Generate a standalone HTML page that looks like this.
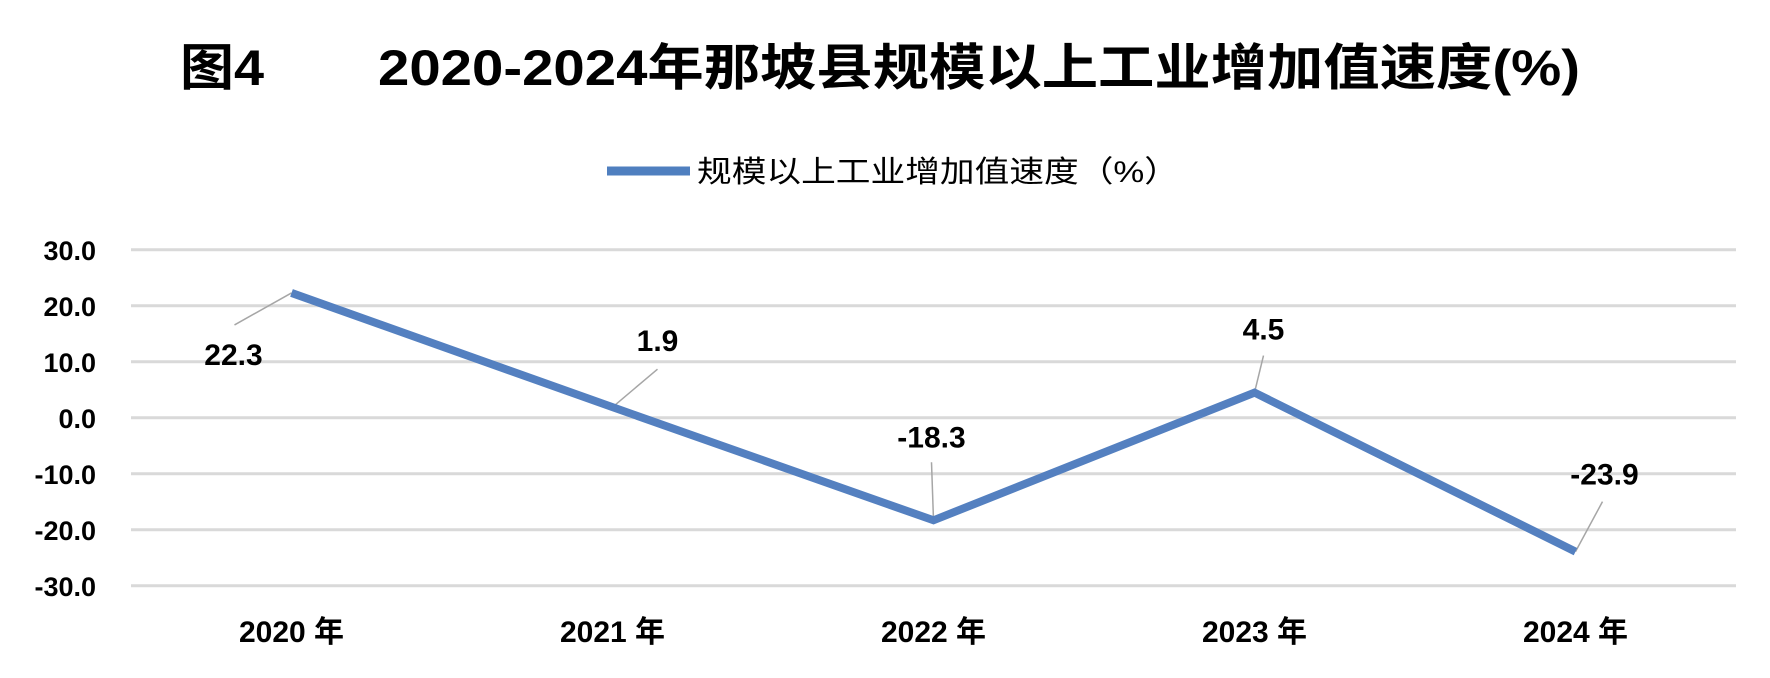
<!DOCTYPE html>
<html><head><meta charset="utf-8"><style>
body{margin:0;background:#fff;}
svg{display:block;font-family:"Liberation Sans","Noto Sans CJK SC",sans-serif;}
</style></head><body>
<svg width="1770" height="678" viewBox="0 0 1770 678">
<g>
<text x="180" y="85" font-size="50" font-weight="bold" fill="#000" textLength="84" lengthAdjust="spacingAndGlyphs">图4</text>
<text x="378" y="85" font-size="50" font-weight="bold" fill="#000" textLength="1202" lengthAdjust="spacingAndGlyphs">2020-2024年那坡县规模以上工业增加值速度(%)</text>
</g>
<g>
<line x1="607" y1="171" x2="690" y2="171" stroke="#4f7fbf" stroke-width="9"/>
<text x="697" y="182" font-size="30" fill="#000" textLength="482" lengthAdjust="spacingAndGlyphs">规模以上工业增加值速度（%）</text>
</g>
<g id="grid"></g><g id="yl"></g><g id="xl"></g><g id="lead"></g><g id="series"></g><g id="dl"></g>
</svg>
<script>
const categories=["2020 年","2021 年","2022 年","2023 年","2024 年"];
const values=[22.3,1.9,-18.3,4.5,-23.9];
const valueLabels=["22.3","1.9","-18.3","4.5","-23.9"];
const yTicks=[30,20,10,0,-10,-20,-30];
const yTickLabels=["30.0","20.0","10.0","0.0","-10.0","-20.0","-30.0"];
const NS="http://www.w3.org/2000/svg";
const L=131,R=1736,Y0=417.8,PX=5.6;
const x=i=>L+(R-L)/categories.length*(i+0.5);
const y=v=>Y0-v*PX;
function mk(t,a,p){const e=document.createElementNS(NS,t);for(const k in a)e.setAttribute(k,a[k]);document.getElementById(p).appendChild(e);return e;}
yTicks.forEach((t,i)=>{
 const g=mk("line",{x1:L,x2:R,y1:y(t),y2:y(t),stroke:"#d9d9d9","stroke-width":3},"grid");
 
 
 const tx=mk("text",{x:96,y:y(t)+10,"text-anchor":"end","font-size":27,"font-weight":"bold"},"yl");
 tx.textContent=yTickLabels[i];
 
 
});
categories.forEach((c,i)=>{
 const tx=mk("text",{x:x(i),y:642,"text-anchor":"middle","font-size":30,"font-weight":"bold"},"xl");
 tx.textContent=c;
 
 
});
const pts=values.map((v,i)=>x(i)+","+y(v)).join(" ");
const pl=mk("polyline",{points:pts,fill:"none",stroke:"#5480c0","stroke-width":8,"stroke-linejoin":"miter"},"series");


const off=[[-58,62,-57,32],[45,-66,45,-38],[-2,-83,-2,-58],[9,-63,9,-37],[29,-77,27,-50]];
values.forEach((v,i)=>{
 const px=x(i),py=y(v),o=off[i];
 const ln=mk("line",{x1:px,y1:py,x2:px+o[2],y2:py+o[3],stroke:"#a6a6a6","stroke-width":1.5},"lead");
 
 
 const tx=mk("text",{x:px+o[0],y:py+o[1]+10,"text-anchor":"middle","font-size":30,"font-weight":"bold"},"dl");
 tx.textContent=valueLabels[i];
 
 
});
</script>
</body></html>
